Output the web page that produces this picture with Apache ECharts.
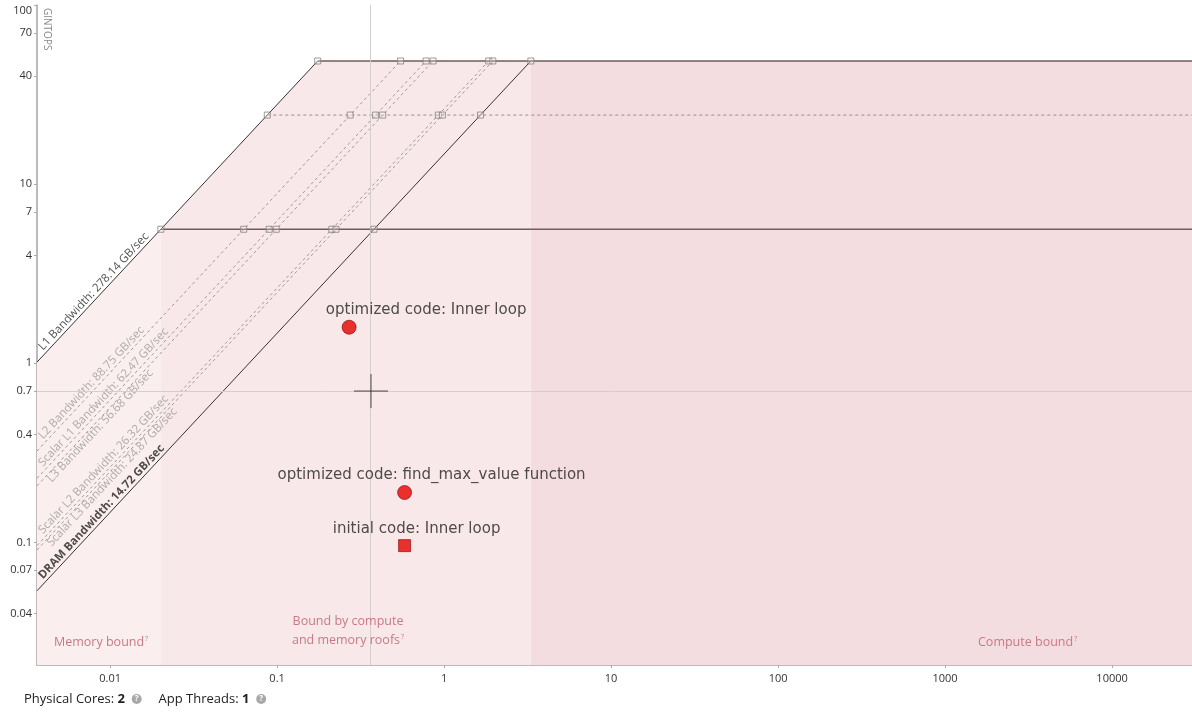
<!DOCTYPE html>
<html>
<head>
<meta charset="utf-8">
<script src="https://cdn.jsdelivr.net/npm/echarts@6/dist/echarts.min.js"></script>
<style>
html, body { margin: 0; padding: 0; background: #fff; }
#chart { width: 1192px; height: 714px; }
</style>
</head>
<body>
<div id="chart"></div>
<script>
// axis ticks
var xTicks = [0.01, 0.1, 1, 10, 100, 1000, 10000];
var yTicks = [0.04, 0.07, 0.1, 0.4, 0.7, 1, 4, 7, 10, 40, 70, 100];

// memory roofs (GB/sec)
var bwNames  = ['L1 Bandwidth', 'L2 Bandwidth', 'Scalar L1 Bandwidth', 'L3 Bandwidth',
                'Scalar L2 Bandwidth', 'Scalar L3 Bandwidth', 'DRAM Bandwidth'];
var bwValues = [278.14, 88.75, 62.47, 56.68, 26.32, 24.87, 14.72];
var bwDashed = [false, true, true, true, true, true, false];

// compute roofs (GINTOPS)
var roofValues = [48.7, 24.3, 5.6];
var roofDashed = [false, true, false];

// loops
var loopNames  = ['optimized code: Inner loop', 'optimized code: find_max_value function', 'initial code: Inner loop'];
var loopAI     = [0.27, 0.58, 0.58];
var loopPerf   = [1.59, 0.19, 0.096];
var loopShapes = ['circle', 'circle', 'rect'];

// mouse cursor in the screenshot
var cursorAI = 0.365, cursorPerf = 0.7;

var xMin = 0.00365, xMax = 30100, yMin = 0.0207, yMax = 100;

var myChart = echarts.init(document.getElementById('chart'));

var topRoof = roofValues[0];
var l1 = bwValues[0];
var ridgeLow = roofValues[2] / l1;               // where L1 meets the lowest roof
var ridgeTop = topRoof / l1;                     // where L1 meets the top roof
var dramTop = topRoof / bwValues[bwValues.length - 1];

var series = [];

// shaded regions under the roofline
function area(points, color) {
    series.push({
        type: 'line', data: points, showSymbol: false, silent: true, z: 1,
        lineStyle: { width: 0 }, areaStyle: { color: color, opacity: 1 }
    });
}
area([[xMin, l1 * xMin], [ridgeLow, roofValues[2]]], '#fbeeee');
area([[ridgeLow, roofValues[2]], [ridgeTop, topRoof], [dramTop, topRoof]], '#f9e8e9');
area([[dramTop, topRoof], [xMax, topRoof]], '#f4dde0');

// bandwidth roofs
var labelBelow = [false, false, false, true, false, true, false];
var labelItems = [];
for (var i = 0; i < bwValues.length; i++) {
    series.push({
        type: 'line', showSymbol: false, silent: true, z: 3,
        data: [[xMin, bwValues[i] * xMin], [topRoof / bwValues[i], topRoof]],
        lineStyle: bwDashed[i] ? { color: '#9a9a9a', width: 1, type: [3, 3] } : { color: '#333', width: 1 }
    });
    var startAI = 0.0041;
    labelItems.push({
        value: [startAI, bwValues[i] * startAI],
        label: {
            formatter: bwNames[i] + ': ' + bwValues[i].toFixed(2) + ' GB/sec',
            color: bwDashed[i] ? '#9a9a9a' : '#222',
            fontWeight: i === bwValues.length - 1 ? 'bold' : 'normal',
            verticalAlign: labelBelow[i] ? 'top' : 'bottom'
        }
    });
}
series.push({
    type: 'scatter', symbolSize: 1, silent: true, z: 4,
    itemStyle: { color: 'rgba(0,0,0,0)' },
    label: {
        show: true, position: [0, 0], rotate: 47, align: 'left',
        fontFamily: 'Open Sans', fontSize: 11.5
    },
    data: labelItems
});

// compute roofs + intersection markers
var marks = [];
for (var r = 0; r < roofValues.length; r++) {
    series.push({
        type: 'line', showSymbol: false, silent: true, z: 3,
        data: [[roofValues[r] / l1, roofValues[r]], [xMax, roofValues[r]]],
        lineStyle: roofDashed[r] ? { color: '#a08a8c', width: 1, type: [3, 3] } : { color: '#6e5c5e', width: 1.5 }
    });
    for (var b = 0; b < bwValues.length; b++) {
        marks.push([roofValues[r] / bwValues[b], roofValues[r]]);
    }
}
series.push({
    type: 'scatter', symbol: 'rect', symbolSize: 6, silent: true, z: 5,
    itemStyle: { color: 'rgba(255,255,255,0.3)', borderColor: '#8a8080', borderWidth: 1 },
    data: marks
});

// cursor crosshair
series.push({
    type: 'scatter', silent: true, z: 6,
    symbol: 'path://M0,17L34,17M17,0L17,34', symbolSize: 34,
    itemStyle: { color: 'none', borderColor: '#222', borderWidth: 1 },
    data: [[cursorAI, cursorPerf]],
    markLine: {
        silent: true, symbol: 'none', label: { show: false },
        lineStyle: { color: '#d6cdce', width: 1, type: 'solid' },
        data: [{ xAxis: cursorAI }, { yAxis: cursorPerf }]
    }
});

// loops
var labelShift = [[77, -17], [27, -17], [12, -17]];
var loopData = [];
for (var k = 0; k < loopNames.length; k++) {
    loopData.push({
        name: loopNames[k],
        value: [loopAI[k], loopPerf[k]],
        symbol: loopShapes[k],
        symbolSize: loopShapes[k] === 'rect' ? 12 : 14,
        label: { offset: labelShift[k] }
    });
}
series.push({
    type: 'scatter', z: 7,
    itemStyle: { color: '#e60000', borderColor: '#8a0000', borderWidth: 0.8 },
    label: {
        show: true, position: 'inside', formatter: '{b}',
        color: '#222', fontFamily: 'DejaVu Sans', fontSize: 15
    },
    data: loopData
});

var fmt = function (v) { return String(+v.toPrecision(6)); };
var regionColor = '#c77a86';
var regionFont = '12.5px "Open Sans"';
var sup = { fontSize: 7, color: regionColor, padding: [0, 0, 7, 1], fontFamily: 'Open Sans' };

option = {
    animation: false,
    grid: { left: 37, right: 0, top: 5, bottom: 49 },
    xAxis: {
        type: 'log', min: xMin, max: xMax,
        axisLine: { lineStyle: { color: '#a9a3a4', width: 1.5 } },
        axisTick: { customValues: xTicks, length: 3, lineStyle: { color: '#aaa' } },
        axisLabel: { customValues: xTicks, formatter: fmt, color: '#333', fontFamily: 'Open Sans', fontSize: 11, margin: 8 },
        splitLine: { show: false }
    },
    yAxis: {
        type: 'log', min: yMin, max: yMax,
        axisLine: { show: true, lineStyle: { color: '#a9a3a4', width: 1.5 } },
        axisTick: { show: true, customValues: yTicks, length: 3, lineStyle: { color: '#aaa' } },
        axisLabel: { customValues: yTicks, formatter: fmt, color: '#333', fontFamily: 'Open Sans', fontSize: 11, margin: 5,
                     verticalAlignMaxLabel: 'top' },
        splitLine: { show: false }
    },
    graphic: [
        { type: 'text', x: 42, y: 8, rotation: -Math.PI / 2, originX: 0, originY: 0,
          style: { text: 'GINTOPS', fill: '#888', font: '10px "Open Sans"', align: 'left', verticalAlign: 'bottom' }, z: 10 },
        { type: 'text', x: 54, y: 642, z: 10,
          style: { text: 'Memory bound{s|?}', fill: regionColor, font: regionFont, verticalAlign: 'middle', rich: { s: sup } } },
        { type: 'text', x: 348, y: 621, z: 10,
          style: { text: 'Bound by compute', fill: regionColor, font: regionFont, align: 'center', verticalAlign: 'middle' } },
        { type: 'text', x: 348, y: 640, z: 10,
          style: { text: 'and memory roofs{s|?}', fill: regionColor, font: regionFont, align: 'center', verticalAlign: 'middle', rich: { s: sup } } },
        { type: 'text', x: 978, y: 642, z: 10,
          style: { text: 'Compute bound{s|?}', fill: regionColor, font: regionFont, verticalAlign: 'middle', rich: { s: sup } } },
        { type: 'text', x: 24, y: 699, z: 10,
          style: {
              text: 'Physical Cores: {b|2}  {q|?}     App Threads: {b|1}  {q|?}',
              fill: '#222', font: '13px "Open Sans"', verticalAlign: 'middle',
              rich: {
                  b: { fontWeight: 'bold', fontSize: 13, fontFamily: 'Open Sans', fill: '#222' },
                  q: { fontSize: 8, fontWeight: 'bold', fill: '#fff', backgroundColor: '#a8a8a8', borderRadius: 5,
                       width: 10, height: 10, align: 'center', lineHeight: 10, fontFamily: 'Open Sans' }
              }
          } }
    ],
    series: series
};
myChart.setOption(option);
</script>
</body>
</html>
